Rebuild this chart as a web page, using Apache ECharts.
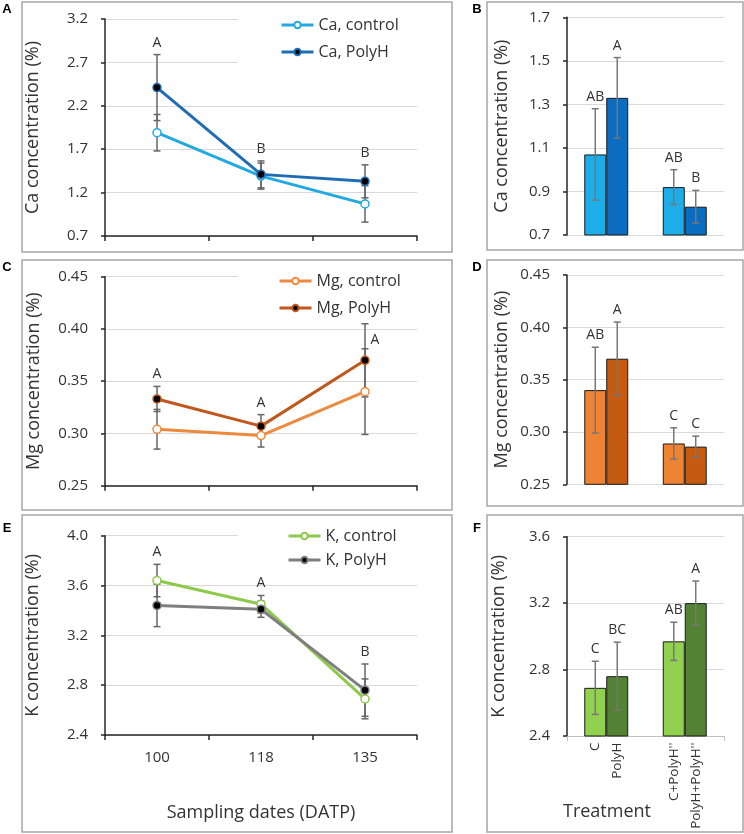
<!DOCTYPE html>
<html>
<head>
<meta charset="utf-8">
<style>
html,body{margin:0;padding:0;background:#fff;}
#chart{width:744px;height:834px;}
</style>
<script src="https://cdn.jsdelivr.net/npm/echarts@6/dist/echarts.min.js"></script>
</head>
<body>
<div id="chart"></div>
<script>
// ---------------- DATA ----------------
const dates = ['100', '118', '135'];

const caControl = [1.89, 1.39, 1.07];
const caControlErr = [0.21, 0.15, 0.21];
const caPolyH = [2.41, 1.41, 1.33];
const caPolyHErr = [0.38, 0.155, 0.19];
const caDateLetters = ['A', 'B', 'B'];

const mgControl = [0.304, 0.298, 0.340];
const mgControlErr = [0.019, 0.011, 0.041];
const mgPolyH = [0.333, 0.307, 0.370];
const mgPolyHErr = [0.012, 0.011, 0.035];
const mgDateLetters = ['A', 'A', 'A'];

const kControl = [3.64, 3.45, 2.69];
const kControlErr = [0.13, 0.07, 0.16];
const kPolyH = [3.44, 3.41, 2.76];
const kPolyHErr = [0.17, 0.065, 0.21];
const kDateLetters = ['A', 'A', 'B'];

const treatmentGroups = ['C / PolyH', "C+PolyH'' / PolyH+PolyH''"];
const treatmentLight = ['C', "C+PolyH''"];
const treatmentDark = ['PolyH', "PolyH+PolyH''"];

const caBarLight = [1.07, 0.92];
const caBarLightErr = [0.21, 0.08];
const caBarLightLetters = ['AB', 'AB'];
const caBarDark = [1.33, 0.83];
const caBarDarkErr = [0.185, 0.075];
const caBarDarkLetters = ['A', 'B'];

const mgBarLight = [0.340, 0.289];
const mgBarLightErr = [0.041, 0.015];
const mgBarLightLetters = ['AB', 'C'];
const mgBarDark = [0.370, 0.286];
const mgBarDarkErr = [0.035, 0.010];
const mgBarDarkLetters = ['A', 'C'];

const kBarLight = [2.69, 2.97];
const kBarLightErr = [0.16, 0.115];
const kBarLightLetters = ['C', 'AB'];
const kBarDark = [2.76, 3.20];
const kBarDarkErr = [0.205, 0.133];
const kBarDarkLetters = ['BC', 'A'];

const caTicks = {min: 0.7, max: 3.2, interval: 0.5, digits: 1};
const caBarTicks = {min: 0.7, max: 1.7, interval: 0.2, digits: 1};
const mgTicks = {min: 0.25, max: 0.45, interval: 0.05, digits: 2};
const kTicks = {min: 2.4, max: 4.0, interval: 0.4, digits: 1};
const kBarTicks = {min: 2.4, max: 3.6, interval: 0.4, digits: 1};

// ---------------- STYLE ----------------
const FONT = '"Open Sans", "Noto Sans", sans-serif';
const TXT = '#333333';
const GRIDC = '#D9D9D9';
const AXC = '#262626';
const mgLetterPlacement = ['above', 'above', 'beside'];
const BARW = 0.28;

const col = {
  caC: '#22A9E1', caP: '#1F6DB5', caBL: '#1DAEEA', caBD: '#0B6CC0',
  mgC: '#EE8A3E', mgP: '#C0571C', mgBL: '#EE8333', mgBD: '#C55A11',
  kC: '#8DC94B', kP: '#7F7F7F', kBL: '#92D050', kBD: '#548235'
};

const gridsPx = [
  {left: 105, top: 19, width: 312, height: 217},      // A
  {left: 567, top: 17.3, width: 157, height: 217.7},  // B
  {left: 105, top: 276.7, width: 312, height: 209},   // C
  {left: 567, top: 275, width: 157, height: 209.3},   // D
  {left: 105, top: 535.7, width: 312, height: 199.3}, // E
  {left: 567, top: 536.7, width: 157, height: 199.3}  // F
];

function yAxisFor(idx, t, name, gap) {
  return {
    type: 'value', gridIndex: idx, min: t.min, max: t.max, interval: t.interval,
    name: name, nameLocation: 'middle', nameGap: gap,
    nameTextStyle: {fontSize: 18, color: TXT, fontFamily: FONT},
    axisLine: {show: true, lineStyle: {color: AXC, width: 1.5}},
    axisTick: {show: true, length: 4, lineStyle: {color: AXC, width: 1.5}},
    axisLabel: {fontSize: 15, color: TXT, fontFamily: FONT, margin: 17,
      formatter: v => v.toFixed(t.digits)},
    splitLine: {show: true, lineStyle: {color: GRIDC, width: 1}}
  };
}

function lineXAxis(idx, showLabels) {
  return {
    type: 'category', gridIndex: idx, data: dates, boundaryGap: true,
    axisLine: {show: true, lineStyle: {color: AXC, width: 1.5}},
    axisTick: {show: true, length: 5, alignWithLabel: false, lineStyle: {color: AXC, width: 1.5}},
    axisLabel: {show: showLabels, fontSize: 15, color: TXT, fontFamily: FONT, margin: 15},
    splitLine: {show: false}
  };
}

function barXAxis(idx, showLine) {
  return {
    type: 'category', gridIndex: idx, data: treatmentGroups, boundaryGap: true,
    axisLine: {show: showLine, lineStyle: {color: '#BFBFBF', width: 1}},
    axisTick: {show: showLine, length: 5, lineStyle: {color: '#BFBFBF', width: 1}},
    axisLabel: {show: false},
    splitLine: {show: false}
  };
}

function errData(vals, errs) {
  return vals.map((v, i) => [i, v - errs[i], v + errs[i]]);
}

function errRender(offsetFrac, color) {
  return function (params, api) {
    const x = api.value(0);
    const lo = api.coord([x, api.value(1)]);
    const hi = api.coord([x, api.value(2)]);
    const dx = api.size([1, 0])[0] * offsetFrac;
    const cx = lo[0] + dx;
    const cap = 3.5;
    const style = {stroke: color, lineWidth: 1.5};
    return {type: 'group', children: [
      {type: 'line', shape: {x1: cx, y1: hi[1], x2: cx, y2: lo[1]}, style: style},
      {type: 'line', shape: {x1: cx - cap, y1: hi[1], x2: cx + cap, y2: hi[1]}, style: style},
      {type: 'line', shape: {x1: cx - cap, y1: lo[1], x2: cx + cap, y2: lo[1]}, style: style}
    ]};
  };
}

function errSeries(gi, vals, errs, offsetFrac, color) {
  return {type: 'custom', xAxisIndex: gi, yAxisIndex: gi, data: errData(vals, errs),
    renderItem: errRender(offsetFrac, color), z: 4, silent: true, clip: false};
}

function letterRender(letters, offsetFrac, placement) {
  return function (params, api) {
    const i = params.dataIndex;
    const p = api.coord([api.value(0), api.value(1)]);
    const dx = api.size([1, 0])[0] * offsetFrac;
    let x = p[0] + dx, y = p[1] - 12;
    if (placement && placement[i] === 'beside') {
      const q = api.coord([api.value(0), api.value(2)]);
      x = p[0] + dx + 10; y = q[1] - 2;
    }
    return {type: 'text', x: x, y: y, style: {
      text: letters[i], fill: TXT, font: '14px ' + FONT,
      align: 'center', verticalAlign: 'middle', textAlign: 'center', textVerticalAlign: 'middle'}};
  };
}

function lineLetterSeries(gi, c, ce, p, pe, letters, placement) {
  const data = c.map((v, i) => [i, Math.max(v + ce[i], p[i] + pe[i]), p[i] + pe[i] / 2]);
  return {type: 'custom', xAxisIndex: gi, yAxisIndex: gi, data: data,
    renderItem: letterRender(letters, 0, placement), z: 6, silent: true, clip: false};
}

function barLetterSeries(gi, vals, errs, letters, offsetFrac) {
  const data = vals.map((v, i) => [i, v + errs[i]]);
  return {type: 'custom', xAxisIndex: gi, yAxisIndex: gi, data: data,
    renderItem: letterRender(letters, offsetFrac, null), z: 6, silent: true, clip: false};
}

function lineSeries(gi, name, data, color, filled) {
  return {type: 'line', name: name, xAxisIndex: gi, yAxisIndex: gi, data: data,
    symbol: 'circle', symbolSize: 8, z: 5,
    lineStyle: {color: color, width: 3},
    itemStyle: {color: filled ? '#000000' : '#ffffff', borderColor: color, borderWidth: 1.5}};
}

function barSeries(gi, name, data, color, names) {
  const s = {type: 'bar', name: name, xAxisIndex: gi, yAxisIndex: gi, data: data,
    barWidth: (BARW * 100) + '%', barGap: '0%', z: 3,
    itemStyle: {color: color, borderColor: '#1a1a1a', borderWidth: 1}};
  if (names) {
    s.label = {show: true, position: 'bottom', rotate: 90, align: 'right', verticalAlign: 'middle',
      distance: 6, fontSize: 13.5, color: TXT, fontFamily: FONT,
      formatter: p => names[p.dataIndex]};
  }
  return s;
}

function legendFor(names, left, top, padLeft, gap) {
  return {data: names, orient: 'vertical', left: left, top: top,
    padding: [6, 30, 8, padLeft], itemWidth: 32, itemHeight: 8, itemGap: gap,
    backgroundColor: '#ffffff', selectedMode: false,
    lineStyle: {width: 3},
    textStyle: {fontSize: 16, color: TXT, fontFamily: FONT}};
}

const frames = [
  [22, 2, 430, 250], [487, 2, 256, 248],
  [22, 260, 430, 250], [487, 260, 256, 246],
  [22, 515, 430, 317], [487, 515, 256, 317]
];
const panelLetters = [['A', 7, 9], ['B', 477, 9], ['C', 7, 267], ['D', 477, 267], ['E', 7, 528], ['F', 477, 528]];

const graphics = [];
frames.forEach(f => graphics.push({type: 'rect', shape: {x: f[0], y: f[1], width: f[2], height: f[3]},
  style: {fill: 'none', stroke: '#A6A6A6', lineWidth: 1.5}, z: -1, silent: true}));
panelLetters.forEach(l => graphics.push({type: 'text', x: l[1], y: l[2], style: {text: l[0],
  font: 'bold 13px "Liberation Sans", Arial, sans-serif', fill: '#000', align: 'center', verticalAlign: 'middle',
  textAlign: 'center', textVerticalAlign: 'middle'}, silent: true}));
graphics.push({type: 'text', x: 607, y: 812, style: {text: 'Treatment', font: '18px ' + FONT, fill: TXT,
  align: 'center', verticalAlign: 'middle', textAlign: 'center', textVerticalAlign: 'middle'}, silent: true});

const option = {
  animation: false,
  backgroundColor: '#ffffff',
  textStyle: {fontFamily: FONT},
  grid: gridsPx.map(g => Object.assign({containLabel: false, outerBoundsMode: 'none'}, g)),
  xAxis: [
    lineXAxis(0, false), barXAxis(1, false),
    lineXAxis(2, false), barXAxis(3, false),
    Object.assign(lineXAxis(4, true), {name: 'Sampling dates (DATP)', nameLocation: 'middle', nameGap: 69,
      nameTextStyle: {fontSize: 18, color: TXT, fontFamily: FONT}}),
    barXAxis(5, true)
  ],
  yAxis: [
    yAxisFor(0, caTicks, 'Ca concentration (%)', 63),
    yAxisFor(1, caBarTicks, 'Ca concentration (%)', 56),
    yAxisFor(2, mgTicks, 'Mg concentration (%)', 62),
    yAxisFor(3, mgTicks, 'Mg concentration (%)', 56),
    yAxisFor(4, kTicks, 'K concentration (%)', 63),
    yAxisFor(5, kBarTicks, 'K concentration (%)', 59)
  ],
  legend: [
    legendFor(['Ca, control', 'Ca, PolyH'], 238, 11, 42, 11),
    legendFor(['Mg, control', 'Mg, PolyH'], 238, 267, 40, 11),
    legendFor(['K, control', 'K, PolyH'], 238, 522, 49, 8)
  ],
  graphic: graphics,
  series: [
    // A
    errSeries(0, caControl, caControlErr, 0, '#666666'),
    errSeries(0, caPolyH, caPolyHErr, 0, '#666666'),
    lineSeries(0, 'Ca, control', caControl, col.caC, false),
    lineSeries(0, 'Ca, PolyH', caPolyH, col.caP, true),
    lineLetterSeries(0, caControl, caControlErr, caPolyH, caPolyHErr, caDateLetters, null),
    // B
    barSeries(1, 'Ca light', caBarLight, col.caBL, null),
    barSeries(1, 'Ca dark', caBarDark, col.caBD, null),
    errSeries(1, caBarLight, caBarLightErr, -BARW / 2, '#777777'),
    errSeries(1, caBarDark, caBarDarkErr, BARW / 2, '#777777'),
    barLetterSeries(1, caBarLight, caBarLightErr, caBarLightLetters, -BARW / 2),
    barLetterSeries(1, caBarDark, caBarDarkErr, caBarDarkLetters, BARW / 2),
    // C
    errSeries(2, mgControl, mgControlErr, 0, '#666666'),
    errSeries(2, mgPolyH, mgPolyHErr, 0, '#666666'),
    lineSeries(2, 'Mg, control', mgControl, col.mgC, false),
    lineSeries(2, 'Mg, PolyH', mgPolyH, col.mgP, true),
    lineLetterSeries(2, mgControl, mgControlErr, mgPolyH, mgPolyHErr, mgDateLetters, mgLetterPlacement),
    // D
    barSeries(3, 'Mg light', mgBarLight, col.mgBL, null),
    barSeries(3, 'Mg dark', mgBarDark, col.mgBD, null),
    errSeries(3, mgBarLight, mgBarLightErr, -BARW / 2, '#777777'),
    errSeries(3, mgBarDark, mgBarDarkErr, BARW / 2, '#777777'),
    barLetterSeries(3, mgBarLight, mgBarLightErr, mgBarLightLetters, -BARW / 2),
    barLetterSeries(3, mgBarDark, mgBarDarkErr, mgBarDarkLetters, BARW / 2),
    // E
    errSeries(4, kControl, kControlErr, 0, '#666666'),
    errSeries(4, kPolyH, kPolyHErr, 0, '#666666'),
    lineSeries(4, 'K, control', kControl, col.kC, false),
    lineSeries(4, 'K, PolyH', kPolyH, col.kP, true),
    lineLetterSeries(4, kControl, kControlErr, kPolyH, kPolyHErr, kDateLetters, null),
    // F
    barSeries(5, 'K light', kBarLight, col.kBL, treatmentLight),
    barSeries(5, 'K dark', kBarDark, col.kBD, treatmentDark),
    errSeries(5, kBarLight, kBarLightErr, -BARW / 2, '#777777'),
    errSeries(5, kBarDark, kBarDarkErr, BARW / 2, '#777777'),
    barLetterSeries(5, kBarLight, kBarLightErr, kBarLightLetters, -BARW / 2),
    barLetterSeries(5, kBarDark, kBarDarkErr, kBarDarkLetters, BARW / 2)
  ]
};

const chart = echarts.init(document.getElementById('chart'), null, {renderer: 'canvas'});
chart.setOption(option);
</script>
</body>
</html>
